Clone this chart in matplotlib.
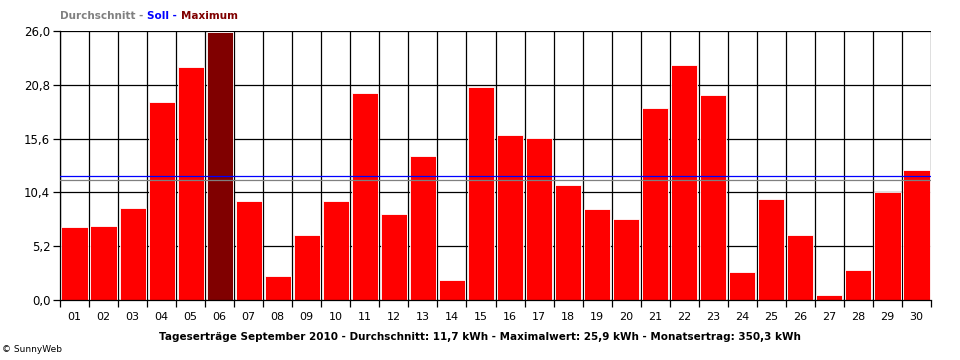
import numpy as np
from matplotlib import pyplot as plt
from matplotlib.ticker import FixedLocator, FuncFormatter

days = ["%02d" % d for d in range(1, 31)]
ertrag = [7.1, 7.2, 8.9, 19.1, 22.5, 25.9, 9.6, 2.3, 6.3, 9.6,
          20.0, 8.3, 13.9, 1.9, 20.6, 15.9, 15.7, 11.1, 8.8, 7.8,
          18.6, 22.7, 19.8, 2.7, 9.8, 6.3, 0.5, 2.9, 10.4, 12.6]
durchschnitt = 11.6
soll = 12.0
y_ticks = [0.0, 5.2, 10.4, 15.6, 20.8, 26.0]
titel = "Tageserträge September 2010 - Durchschnitt: 11,7 kWh - Maximalwert: 25,9 kWh - Monatsertrag: 350,3 kWh"

plt.rcParams['font.family'] = ['DejaVu Sans']

fig = plt.figure(figsize=(9.6, 3.6), dpi=100)
ax = fig.add_axes([60 / 960, 60 / 360, 871 / 960, 269 / 360])

x = np.arange(1, len(ertrag) + 1)
imax = int(np.argmax(ertrag))
colors = ['red'] * len(ertrag)
colors[imax] = '#800000'

# gitter hinter den balken
for yt in y_ticks:
    ax.axhline(yt, color='black', lw=0.9, zorder=0)
for xb in np.arange(0.5, len(ertrag) + 1, 1.0):
    ax.axvline(xb, color='black', lw=0.9, zorder=0.5)

ax.bar(x, ertrag, width=0.9, color=colors, edgecolor='white', linewidth=0.6, zorder=2)

ax.axhline(soll, color='blue', lw=0.9, zorder=3)
ax.axhline(durchschnitt, color='gray', lw=0.9, zorder=3)

ax.set_xlim(0.5, len(ertrag) + 0.5)
ax.set_ylim(0, 26.0)

ax.yaxis.set_major_locator(FixedLocator(y_ticks))
ax.yaxis.set_major_formatter(FuncFormatter(lambda v, p: ("%.1f" % v).replace('.', ',')))
ax.xaxis.set_major_locator(FixedLocator(np.arange(0.5, len(ertrag) + 1, 1.0)))
ax.xaxis.set_major_formatter(FuncFormatter(lambda v, p: ""))
ax.xaxis.set_minor_locator(FixedLocator(x))
ax.set_xticklabels(days, minor=True)
ax.tick_params(axis='x', which='major', length=5, width=0.9, direction='out', color='black')
ax.tick_params(axis='x', which='minor', length=0, labelsize=8, pad=9)
ax.tick_params(axis='y', length=5, width=0.9, labelsize=8.5, pad=2)

for s in ['top', 'right']:
    ax.spines[s].set_visible(False)
ax.spines['left'].set_linewidth(0.9)
ax.spines['bottom'].set_linewidth(0.9)

# legende oben
t1 = fig.text(60 / 960, 1 - 16 / 360, "Durchschnitt - ", color='gray', fontsize=7.5,
              fontweight='bold', va='center', ha='left')
t2 = ax.annotate("Soll - ", xy=(1, 0.5), xycoords=t1, color='blue', fontsize=7.5,
                 fontweight='bold', va='center', ha='left')
ax.annotate("Maximum", xy=(1, 0.5), xycoords=t2, color='#800000', fontsize=7.5,
            fontweight='bold', va='center', ha='left')

fig.text(480 / 960, 1 - 337 / 360, titel, fontsize=7.5, fontweight='bold',
         ha='center', va='center')
fig.text(2 / 960, 1 - 350 / 360, "© SunnyWeb", fontsize=6.5, ha='left', va='center')

fig.savefig("out.png", dpi=100)
